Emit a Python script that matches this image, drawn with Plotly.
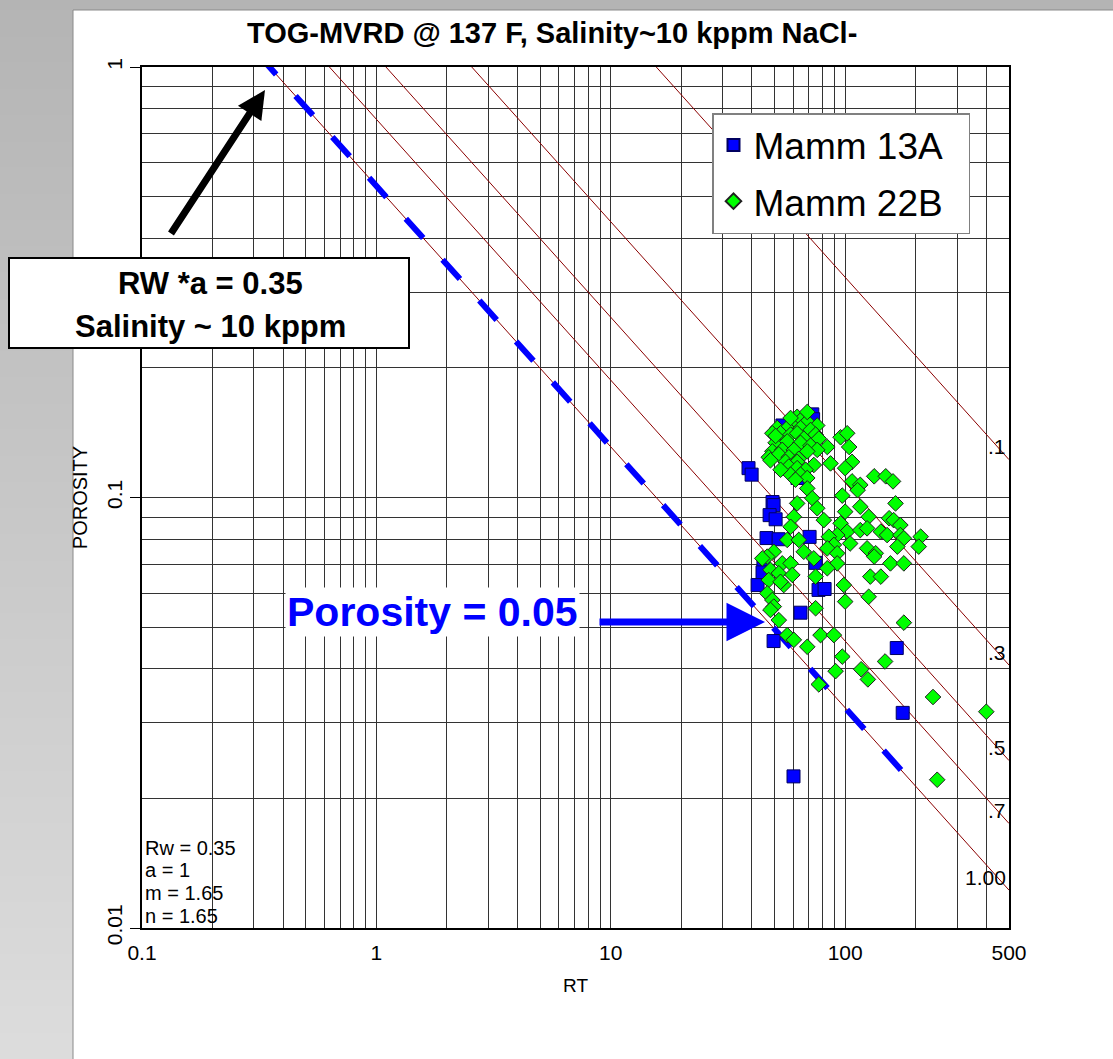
import numpy as np
import plotly.graph_objects as go

# ---------------- data ----------------
TITLE = "TOG-MVRD @ 137 F, Salinity~10 kppm NaCl-"
RW = 0.35
A_CONST = 1.0
M_EXP = 1.65
N_EXP = 1.65
SW_VALUES = [0.1, 0.3, 0.5, 0.7, 1.0]
SW_LABELS = [".1", ".3", ".5", ".7", "1.00"]

X_TICKS = [0.1, 1, 10, 100, 500]
X_TICKTEXT = ["0.1", "1", "10", "100", "500"]
Y_TICKS = [0.01, 0.1, 1]
Y_TICKTEXT = ["0.01", "0.1", "1"]

mamm13a_rt = [72.4, 73.0, 54.0, 66.4, 62.6, 38.7, 39.9, 49.0, 49.5, 47.6, 50.5, 46.2, 52.0,
              70.5, 44.8, 44.4, 42.3, 74.8, 77.0, 81.7, 64.5, 49.5, 166, 176, 60.2]
mamm13a_phi = [0.156, 0.152, 0.147, 0.136, 0.111, 0.117, 0.113, 0.0976, 0.096, 0.091, 0.089,
               0.0805, 0.080, 0.081, 0.0705, 0.067, 0.0626, 0.0705, 0.061, 0.0613, 0.054,
               0.0464, 0.0447, 0.0316, 0.0225]

mamm22b_rt = [62.4, 64.5, 68.9, 59.5, 76.0, 51.3, 56.6, 64.5, 71.2, 53.0, 48.9, 58.5, 62.4,
              74.8, 66.6, 77.2, 50.5, 56.6, 64.5, 71.2, 83.9, 76.0, 48.9, 53.9, 60.4, 68.9,
              47.2, 52.1, 57.5, 63.4, 48.0, 55.7, 62.4, 73.5, 57.5, 62.4, 67.8, 58.5, 64.5,
              68.9, 61.4, 95.6, 102, 104, 86.6, 107, 100, 133, 149, 160, 107, 116, 113, 97.2,
              68.9, 72.4, 62.4, 76.0, 116, 164, 100, 81.1, 60.4, 58.5, 95.6, 102, 92.5, 85.2,
              116, 126, 124, 154, 161, 172, 142, 151, 172, 178, 210, 206, 167, 124, 135, 133,
              105, 89.5, 83.9, 92.5, 56.6, 63.4, 66.6, 73.5, 49.6, 53.9, 58.5, 46.5, 48.0,
              44.3, 52.1, 59.5, 54.7, 47.2, 53.0, 46.5, 48.9, 49.6, 92.5, 83.9, 74.8, 98.7,
              100, 126, 128, 142, 156, 178, 74.8, 52.1, 56.6, 60.4, 68.9, 78.5, 89.5, 178,
              97.2, 91.0, 117, 125, 148, 77.2, 237, 400, 247, 48.0, 68.9, 58.5, 50.5, 53.0]
mamm22b_phi = [0.154, 0.151, 0.150, 0.147, 0.147, 0.145, 0.145, 0.145, 0.1435, 0.141, 0.141,
               0.140, 0.141, 0.140, 0.137, 0.137, 0.134, 0.135, 0.134, 0.132, 0.131, 0.129,
               0.128, 0.129, 0.129, 0.128, 0.124, 0.126, 0.124, 0.123, 0.122, 0.121, 0.121,
               0.119, 0.118, 0.117, 0.116, 0.113, 0.113, 0.111, 0.110, 0.138, 0.141, 0.131,
               0.120, 0.121, 0.117, 0.112, 0.112, 0.109, 0.109, 0.107, 0.104, 0.101, 0.105,
               0.0996, 0.0969, 0.0944, 0.0952, 0.0969, 0.0927, 0.0886, 0.0902, 0.0855, 0.0871,
               0.0833, 0.0818, 0.0811, 0.0840, 0.0902, 0.0848, 0.0895, 0.0886, 0.0863, 0.0833,
               0.0818, 0.0818, 0.0804, 0.0811, 0.0769, 0.0769, 0.0762, 0.0742, 0.0729, 0.0782,
               0.0776, 0.0762, 0.0742, 0.0797, 0.0797, 0.0748, 0.0722, 0.0748, 0.0703, 0.0703,
               0.0729, 0.0679, 0.0722, 0.0667, 0.0661, 0.0626, 0.0643, 0.0637, 0.0599, 0.0578,
               0.0558, 0.0703, 0.0685, 0.0655, 0.0626, 0.0573, 0.0588, 0.0655, 0.0655, 0.0703,
               0.0703, 0.0553, 0.0519, 0.0479, 0.0467, 0.0450, 0.0479, 0.0479, 0.0512, 0.0427,
               0.0395, 0.0399, 0.0378, 0.0416, 0.0368, 0.0344, 0.0318, 0.0221, 0.0548, 0.158,
               0.153, 0.139, 0.116]

DASH_RT_RANGE = [0.315, 206]   # extent of the highlighted Sw=1 (Rw*a) line

# ---------------- layout geometry ----------------
FIG_W, FIG_H = 1113, 1059
M_L, M_R, M_T, M_B = 142, 104, 67, 131
PW = FIG_W - M_L - M_R
PH = FIG_H - M_T - M_B


def px(xp):
    return (xp - M_L) / PW


def py(yp):
    return (FIG_H - M_B - yp) / PH


FONT = "Liberation Sans, Arial, sans-serif"


def archie_phi(rt, sw):
    rt = np.asarray(rt, dtype=float)
    return (A_CONST * RW / (rt * sw ** N_EXP)) ** (1.0 / M_EXP)


fig = go.Figure()

# Sw lines
line_x = np.array([0.1, 500.0])
for sw in SW_VALUES:
    fig.add_trace(go.Scatter(x=line_x, y=archie_phi(line_x, sw), mode="lines",
                             line=dict(color="#8b0000", width=1), showlegend=False,
                             hoverinfo="skip"))

# highlighted Rw line (dashed blue)
dx = np.array(DASH_RT_RANGE)
fig.add_trace(go.Scatter(x=dx, y=archie_phi(dx, 1.0), mode="lines",
                         line=dict(color="#0000ff", width=6, dash="26px,29px"),
                         showlegend=False, hoverinfo="skip"))

NBSP = "\u00a0"
fig.add_trace(go.Scatter(x=mamm13a_rt, y=mamm13a_phi, mode="markers",
                         name="Mamm 13A" + NBSP * 2, legendgroup="a",
                         marker=dict(symbol="square", size=13, color="#0000ff",
                                     line=dict(color="#000060", width=1))))
fig.add_trace(go.Scatter(x=mamm22b_rt, y=mamm22b_phi, mode="markers",
                         name="Mamm 22B" + NBSP * 2, legendgroup="b",
                         marker=dict(symbol="diamond", size=12, color="#00ff00",
                                     line=dict(color="#202020", width=1))))

# minor grid values
minor_x = [m * 10.0 ** e for e in range(-1, 3) for m in range(2, 10) if m * 10.0 ** e < 500]
minor_y = [m * 10.0 ** e for e in range(-2, 0) for m in range(2, 10)]

GRID = "#333333"
fig.update_xaxes(type="log", range=[-1, np.log10(500)], tickmode="array", tickvals=X_TICKS,
                 ticktext=X_TICKTEXT, showgrid=True, gridcolor=GRID, gridwidth=1,
                 minor=dict(tickmode="array", tickvals=minor_x, showgrid=True, gridcolor=GRID,
                            gridwidth=1, ticks=""),
                 ticks="outside", ticklen=5, tickcolor="rgba(0,0,0,0)",
                 showline=True, linecolor="black", linewidth=1.5, mirror=True,
                 tickfont=dict(family=FONT, size=21, color="black"),
                 title=dict(text="RT", font=dict(family=FONT, size=19, color="black"),
                            standoff=16),
                 zeroline=False)
fig.update_yaxes(type="log", range=[-2, 0], tickmode="array", tickvals=Y_TICKS,
                 ticktext=Y_TICKTEXT, showgrid=True, gridcolor=GRID, gridwidth=1,
                 minor=dict(tickmode="array", tickvals=minor_y, showgrid=True, gridcolor=GRID,
                            gridwidth=1, ticks=""),
                 ticks="outside", ticklen=10, tickcolor="black", tickangle=-90,
                 showline=True, linecolor="black", linewidth=1.5, mirror=True,
                 tickfont=dict(family=FONT, size=21, color="black"),
                 title=dict(text="POROSITY", font=dict(family=FONT, size=20, color="black"),
                            standoff=10),
                 zeroline=False)

shapes = []
# gray page background strips (gradient) and white card
NB = 40
top_px, bot_px = 10, FIG_H
for i in range(NB):
    y0 = top_px + (bot_px - top_px) * i / NB
    y1 = top_px + (bot_px - top_px) * (i + 1) / NB + 1
    t = (i + 0.5) / NB
    g = int(round(180 + (221 - 180) * t))
    shapes.append(dict(type="rect", xref="paper", yref="paper", x0=px(0), x1=px(73),
                       y0=py(y1), y1=py(y0), fillcolor=f"rgb({g},{g},{g})",
                       line=dict(width=0), layer="below"))
shapes.append(dict(type="rect", xref="paper", yref="paper", x0=px(73), x1=px(FIG_W + 5),
                   y0=py(FIG_H + 5), y1=py(10), fillcolor="white",
                   line=dict(color="#8a8a8a", width=1), layer="below"))
# annotation box
shapes.append(dict(type="rect", xref="paper", yref="paper", x0=px(9), x1=px(409),
                   y0=py(348), y1=py(258), fillcolor="white",
                   line=dict(color="black", width=2), layer="above"))

annotations = []
annotations.append(dict(text=f"<b>{TITLE}</b>", xref="paper", yref="paper", x=px(552), y=py(33),
                        showarrow=False, font=dict(family=FONT, size=29, color="black"),
                        xanchor="center", yanchor="middle"))
annotations.append(dict(text=f"<b>RW *a = {RW}</b>", xref="paper", yref="paper", x=px(210),
                        y=py(283), showarrow=False, xanchor="center", yanchor="middle",
                        font=dict(family=FONT, size=31, color="black")))
annotations.append(dict(text="<b>Salinity ~ 10 kppm</b>", xref="paper", yref="paper", x=px(210),
                        y=py(327), showarrow=False, xanchor="center", yanchor="middle",
                        font=dict(family=FONT, size=31, color="black")))
# black arrow towards top of the Rw line
annotations.append(dict(text="", xref="paper", yref="paper", x=px(265), y=py(90),
                        ax=-95, ay=145, showarrow=True, arrowhead=2, arrowsize=0.8,
                        arrowwidth=7, arrowcolor="black"))
# Porosity label and blue arrow
annotations.append(dict(text="<b>Porosity = 0.05</b>", xref="paper", yref="paper", x=px(432),
                        y=py(612), showarrow=False, bgcolor="white", xanchor="center",
                        yanchor="middle", font=dict(family=FONT, size=41, color="#0000ff")))
annotations.append(dict(text="", xref="paper", yref="paper", x=px(765), y=py(622),
                        ax=-167, ay=0, showarrow=True, arrowhead=2, arrowsize=1.1,
                        arrowwidth=7, arrowcolor="#0000ff"))
# parameter block
for txt, yy in zip([f"Rw = {RW}", f"a = {A_CONST:g}", f"m = {M_EXP}", f"n = {N_EXP}"],
                   [848, 870, 893, 916]):
    annotations.append(dict(text=txt, xref="paper", yref="paper", x=px(143), y=py(yy),
                            xanchor="left", yanchor="middle", showarrow=False,
                            font=dict(family=FONT, size=20, color="black")))
# Sw labels at the right edge
for sw, lab in zip(SW_VALUES, SW_LABELS):
    yv = float(np.log10(archie_phi(500.0, sw)))
    annotations.append(dict(text=lab, xref="paper", yref="y", x=px(1008), y=yv,
                            xanchor="right", yanchor="middle", yshift=13, showarrow=False,
                            font=dict(family=FONT, size=21, color="black")))

fig.update_layout(
    width=FIG_W, height=FIG_H,
    margin=dict(l=M_L, r=M_R, t=M_T, b=M_B, autoexpand=False),
    paper_bgcolor="#b4b4b4", plot_bgcolor="white",
    shapes=shapes, annotations=annotations,
    legend=dict(x=px(712), y=py(113), xanchor="left", yanchor="top",
                bgcolor="white", bordercolor="#808080", borderwidth=1.5,
                font=dict(family=FONT, size=37, color="black"),
                itemsizing="constant", tracegroupgap=5),
    showlegend=True,
)

fig.write_html("out.html", config={"displayModeBar": False})
